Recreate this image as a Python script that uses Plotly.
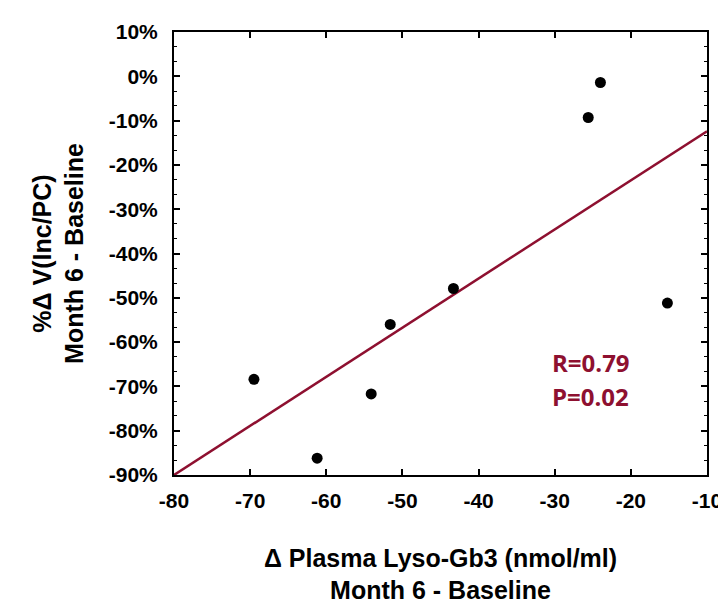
import plotly.graph_objects as go

# Data
lyso_change = [-69.5, -61.2, -54.1, -51.6, -43.3, -25.6, -24.0, -15.2]
vinc_change_pct = [-68.4, -86.2, -71.7, -56.0, -47.9, -9.3, -1.4, -51.2]

fit_x = [-80, -10]
fit_y = [-90.0, -12.4]

x_tick_vals = [-80, -70, -60, -50, -40, -30, -20, -10]
x_tick_text = ["-80", "-70", "-60", "-50", "-40", "-30", "-20", "-10"]
y_tick_vals = [10, 0, -10, -20, -30, -40, -50, -60, -70, -80, -90]
y_tick_text = ["10%", "0%", "-10%", "-20%", "-30%", "-40%", "-50%", "-60%", "-70%", "-80%", "-90%"]

stat_lines = ["R=0.79", "P=0.02"]
stat_y = [-64.6, -72.3]
stat_x = -30.6

FONT = "Liberation Sans, Arial, sans-serif"
RED = "#8e1030"

fig = go.Figure()
fig.add_trace(go.Scatter(x=fit_x, y=fit_y, mode="lines",
                         line=dict(color=RED, width=2.5), hoverinfo="skip",
                         showlegend=False, cliponaxis=True))
fig.add_trace(go.Scatter(x=lyso_change, y=vinc_change_pct, mode="markers",
                         marker=dict(color="black", size=11),
                         showlegend=False))

for txt, yy in zip(stat_lines, stat_y):
    fig.add_annotation(x=stat_x, y=yy, xref="x", yref="y", text=txt,
                       showarrow=False, xanchor="left", yanchor="middle",
                       font=dict(family="Open Sans, sans-serif", size=24,
                                 color=RED, weight="bold"))

axis_common = dict(showline=True, linecolor="black", linewidth=2, mirror="ticks",
                   ticks="inside", ticklen=6, tickcolor="black", tickwidth=1.5,
                   showgrid=False, zeroline=False,
                   tickfont=dict(family=FONT, size=21, color="black", weight="bold"))

fig.update_xaxes(range=[-80, -10], tickvals=x_tick_vals, ticktext=x_tick_text,
                 ticklabelstandoff=6,
                 title=dict(text="Δ Plasma Lyso-Gb3 (nmol/ml)<br>Month 6 - Baseline",
                            font=dict(family=FONT, size=25, color="black", weight="bold"),
                            standoff=38),
                 **axis_common)
fig.update_yaxes(range=[-90, 10], tickvals=y_tick_vals, ticktext=y_tick_text,
                 ticklabelstandoff=10,
                 minor=dict(dtick=10/3, ticks="inside", ticklen=3, tickcolor="black",
                            tickwidth=1),
                 title=dict(text="%Δ V(Inc/PC)<br>Month 6 - Baseline",
                            font=dict(family=FONT, size=25, color="black", weight="bold"),
                            standoff=18),
                 **axis_common)

fig.update_layout(width=726, height=604, autosize=False,
                  margin=dict(l=166, r=23, t=20, b=131),
                  paper_bgcolor="white", plot_bgcolor="white")

fig.write_html("out.html")
